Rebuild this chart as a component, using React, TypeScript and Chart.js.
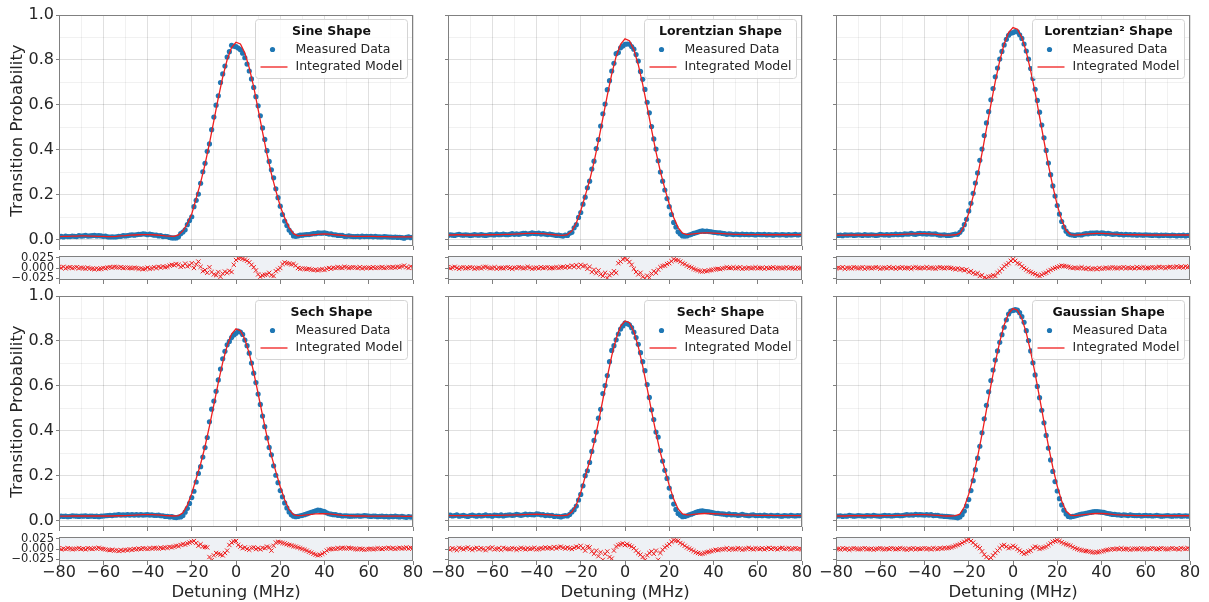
import React, { useEffect, useRef } from 'react';
import { Chart, registerables } from 'chart.js';

Chart.register(...registerables);

// ---------------- DATA ----------------
const detuning = [
  -80,-79,-78,-77,-76,-75,-74,-73,-72,-71,
  -70,-69,-68,-67,-66,-65,-64,-63,-62,-61,
  -60,-59,-58,-57,-56,-55,-54,-53,-52,-51,
  -50,-49,-48,-47,-46,-45,-44,-43,-42,-41,
  -40,-39,-38,-37,-36,-35,-34,-33,-32,-31,
  -30,-29,-28,-27,-26,-25,-24,-23,-22,-21,
  -20,-19,-18,-17,-16,-15,-14,-13,-12,-11,
  -10,-9,-8,-7,-6,-5,-4,-3,-2,-1,
  0,1,2,3,4,5,6,7,8,9,
  10,11,12,13,14,15,16,17,18,19,
  20,21,22,23,24,25,26,27,28,29,
  30,31,32,33,34,35,36,37,38,39,
  40,41,42,43,44,45,46,47,48,49,
  50,51,52,53,54,55,56,57,58,59,
  60,61,62,63,64,65,66,67,68,69,
  70,71,72,73,74,75,76,77,78,79,
  80,
];

const modelDetuning = [
  -80,-78,-76,-74,-72,-70,-68,-66,-64,-62,
  -60,-58,-56,-54,-52,-50,-48,-46,-44,-42,
  -40,-38,-36,-34,-32,-30,-28,-26,-24,-22,
  -20,-18,-16,-14,-12,-10,-8,-6,-4,-2,
  0,2,4,6,8,10,12,14,16,18,
  20,22,24,26,28,30,32,34,36,38,
  40,42,44,46,48,50,52,54,56,58,
  60,62,64,66,68,70,72,74,76,78,
  80,
];

const xTickValues = [-80,-70,-60,-50,-40,-30,-20,-10,0,10,20,30,40,50,60,70,80];
const yTickValues = [0,0.1,0.2,0.3,0.4,0.5,0.6,0.7,0.8,0.9,1.0];
const residualTickValues = [-0.025,0,0.025];

// Sine
const sineMeasured = [
  .013,.016,.013,.017,.015,.015,.017,.016,.015,.019,
  .017,.018,.020,.017,.018,.019,.020,.018,.019,.018,
  .016,.017,.014,.013,.014,.013,.014,.016,.016,.019,
  .018,.019,.021,.023,.021,.023,.025,.025,.027,.026,
  .023,.026,.024,.021,.022,.018,.019,.015,.016,.015,
  .011,.009,.009,.009,.014,.028,.035,.045,.068,.086,
  .103,.148,.176,.204,.252,.303,.341,.394,.427,.490,
  .546,.599,.641,.700,.738,.773,.813,.837,.865,.861,
  .859,.853,.846,.830,.810,.782,.751,.716,.678,.637,
  .596,.552,.498,.447,.397,.349,.312,.276,.227,.188,
  .150,.113,.084,.064,.044,.032,.018,.016,.018,.021,
  .021,.023,.024,.024,.026,.028,.028,.031,.030,.030,
  .032,.029,.026,.027,.023,.023,.020,.020,.020,.016,
  .016,.018,.016,.015,.015,.016,.014,.017,.015,.016,
  .015,.016,.014,.016,.014,.014,.013,.015,.014,.013,
  .013,.012,.013,.011,.012,.010,.008,.012,.014,.010,
  .013,
];
const sineModel = [
  .015,.016,.016,.017,.017,.018,.018,.017,.017,.016,
  .016,.015,.015,.016,.018,.019,.021,.022,.023,.024,
  .024,.023,.022,.020,.018,.017,.016,.022,.040,.072,
  .115,.185,.255,.336,.429,.530,.631,.724,.801,.855,
  .879,.871,.831,.765,.680,.580,.479,.381,.294,.219,
  .150,.098,.055,.028,.018,.020,.021,.022,.024,.026,
  .027,.026,.024,.022,.020,.018,.017,.016,.016,.016,
  .016,.016,.015,.015,.015,.014,.014,.014,.014,.014,
  .014,
];
const sineResidual = [
  .002,.000,.003,-.001,.001,.002,.000,.001,.002,-.001,
  .001,.000,-.002,.001,-.001,-.002,-.003,-.001,-.003,-.002,
  .000,-.001,.001,.002,.001,.003,.002,.001,.002,.000,
  .001,.001,.000,-.001,.001,.000,-.002,-.001,-.003,-.002,
  .001,-.002,-.001,.002,.000,.003,.001,.004,.002,.003,
  .006,.008,.007,.010,.008,.003,.005,.011,.004,.007,
  .012,.000,.009,.016,.003,-.008,-.005,-.012,.002,-.010,
  -.016,-.018,-.010,-.022,-.014,-.009,-.012,-.007,-.010,.008,
  .020,.024,.025,.023,.021,.018,.014,.008,.002,-.006,
  -.016,-.022,-.019,-.017,-.016,-.012,-.018,-.020,-.008,-.004,
  .000,.010,.014,.012,.011,.009,.010,.006,.000,-.002,
  -.001,-.002,-.003,-.002,-.004,-.005,-.004,-.006,-.004,-.003,
  -.005,-.002,.000,-.002,.001,.000,.002,.001,.000,.003,
  .002,.000,.001,.002,.001,.000,.002,-.001,.001,.000,
  .001,.000,.002,.000,.001,.001,.002,.000,.001,.002,
  .001,.002,.001,.003,.002,.004,.006,.002,.000,.004,
  .001,
];

// Lorentzian
const lorentzMeasured = [
  .020,.023,.021,.020,.023,.025,.022,.021,.023,.022,
  .020,.021,.024,.022,.021,.024,.021,.020,.022,.024,
  .023,.022,.026,.023,.024,.026,.024,.023,.025,.028,
  .025,.027,.025,.027,.029,.029,.026,.028,.031,.029,
  .028,.030,.026,.028,.026,.024,.026,.024,.022,.020,
  .021,.019,.017,.021,.020,.030,.034,.054,.068,.100,
  .122,.159,.190,.232,.261,.315,.350,.406,.446,.506,
  .561,.604,.668,.708,.751,.785,.828,.833,.854,.862,
  .870,.871,.871,.860,.848,.824,.795,.749,.714,.669,
  .612,.565,.504,.449,.404,.352,.302,.261,.222,.184,
  .148,.113,.078,.057,.036,.026,.018,.017,.018,.022,
  .025,.029,.032,.035,.038,.040,.038,.039,.037,.036,
  .034,.033,.031,.032,.029,.028,.025,.027,.026,.024,
  .026,.025,.023,.026,.024,.025,.023,.025,.024,.022,
  .025,.024,.023,.025,.022,.024,.023,.021,.024,.023,
  .022,.024,.023,.021,.024,.022,.023,.025,.022,.023,
  .024,
];
const lorentzModel = [
  .022,.022,.023,.023,.022,.022,.022,.022,.023,.023,
  .023,.024,.024,.025,.025,.026,.027,.028,.029,.029,
  .029,.028,.027,.025,.023,.021,.020,.024,.040,.075,
  .130,.196,.264,.346,.440,.541,.643,.737,.816,.870,
  .894,.886,.846,.779,.692,.593,.490,.392,.304,.228,
  .160,.100,.055,.030,.024,.026,.028,.030,.031,.031,
  .030,.029,.028,.027,.026,.025,.025,.024,.024,.024,
  .024,.024,.023,.023,.023,.023,.023,.023,.023,.023,
  .023,
];
const lorentzResidual = [
  .002,-.001,.001,.003,.000,-.002,.001,.002,-.001,.000,
  .002,.001,-.002,.000,.001,-.001,.002,.003,.001,-.001,
  .000,.002,-.002,.001,.000,-.001,.001,.002,.000,-.002,
  .001,.000,.002,.001,-.001,.000,.003,.001,-.002,.000,
  .001,-.001,.002,.000,.001,.002,-.001,.000,.001,.002,
  .000,.002,.003,.001,.004,.002,.006,.003,.007,.002,
  .008,.004,.006,-.002,.003,-.010,-.004,-.013,-.006,-.016,
  -.020,-.012,-.025,-.018,-.014,-.008,-.012,.012,.016,.022,
  .024,.021,.015,.008,-.002,-.010,-.016,-.012,-.022,-.026,
  -.019,-.024,-.014,-.008,-.012,-.004,.002,.005,.006,.010,
  .012,.017,.022,.020,.019,.016,.012,.010,.006,.003,
  .001,-.002,-.004,-.006,-.008,-.009,-.007,-.008,-.006,-.005,
  -.004,-.003,-.002,-.003,-.001,.000,.002,.000,.000,.002,
  -.001,.000,.002,-.002,.000,-.001,.001,-.001,.000,.002,
  -.001,.000,.001,-.002,.001,-.001,.000,.002,-.001,.000,
  .001,-.001,.000,.002,-.001,.001,.000,-.002,.001,.000,
  -.001,
];

// Lorentzian^2
const lorentz2Measured = [
  .021,.020,.021,.019,.023,.021,.022,.023,.020,.021,
  .023,.022,.020,.024,.021,.021,.023,.022,.020,.021,
  .025,.023,.022,.024,.021,.024,.023,.026,.023,.025,
  .023,.027,.026,.026,.029,.026,.025,.028,.029,.027,
  .028,.026,.028,.026,.026,.027,.023,.021,.022,.023,
  .020,.020,.021,.024,.026,.025,.034,.046,.068,.092,
  .129,.163,.207,.253,.298,.354,.404,.464,.520,.570,
  .623,.673,.725,.764,.804,.838,.867,.892,.910,.919,
  .922,.926,.925,.912,.896,.871,.840,.804,.762,.718,
  .670,.620,.568,.511,.454,.398,.342,.290,.240,.195,
  .153,.115,.082,.057,.039,.027,.023,.022,.020,.023,
  .023,.022,.026,.028,.027,.030,.030,.030,.032,.029,
  .031,.030,.027,.029,.027,.025,.026,.027,.024,.025,
  .022,.025,.023,.024,.022,.024,.021,.023,.022,.021,
  .023,.022,.021,.020,.022,.021,.019,.021,.020,.022,
  .020,.019,.021,.020,.018,.020,.019,.021,.018,.020,
  .019,
];
const lorentz2Model = [
  .020,.021,.021,.022,.022,.022,.022,.022,.022,.022,
  .023,.023,.023,.024,.024,.025,.026,.027,.027,.028,
  .028,.027,.026,.024,.022,.021,.021,.023,.030,.062,
  .119,.195,.285,.386,.494,.602,.705,.796,.871,.922,
  .944,.937,.900,.836,.752,.655,.548,.440,.334,.238,
  .155,.088,.043,.024,.021,.023,.025,.027,.028,.029,
  .029,.028,.027,.026,.025,.024,.024,.023,.023,.023,
  .022,.022,.022,.022,.022,.022,.022,.022,.022,.022,
  .022,
];
const lorentz2Residual = [
  -.001,.001,.000,.002,-.002,.001,.000,-.001,.002,.001,
  -.001,.000,.002,-.002,.001,.001,-.001,.000,.002,.001,
  -.002,.000,.001,-.001,.002,.000,.001,-.002,.001,.000,
  .002,-.001,.000,.001,-.002,.001,.002,.000,-.001,.001,
  .000,.002,-.001,.001,.000,-.002,.001,.002,.000,-.001,
  .001,.001,.000,-.002,-.003,-.001,-.004,-.003,-.006,-.004,
  -.010,-.008,-.012,-.015,-.013,-.020,-.018,-.024,-.026,-.022,
  -.021,-.018,-.020,-.012,-.008,-.002,.004,.008,.012,.018,
  .022,.018,.012,.010,.004,.000,-.004,-.008,-.010,-.013,
  -.015,-.018,-.020,-.017,-.014,-.012,-.008,-.005,-.002,.000,
  .002,.004,.006,.005,.004,.003,.001,.000,.001,-.001,
  .000,.002,-.001,-.002,.000,-.003,-.002,-.001,-.003,.000,
  -.002,-.001,.001,-.001,.000,.002,.000,-.001,.001,.000,
  .002,-.001,.001,.000,.001,-.001,.002,.000,.001,.002,
  -.001,.000,.001,.002,.000,.001,.003,.001,.002,.000,
  .002,.003,.001,.002,.004,.002,.003,.001,.004,.002,
  .003,
];

// Sech
const sechMeasured = [
  .019,.022,.020,.021,.019,.020,.023,.022,.021,.020,
  .022,.021,.023,.020,.021,.022,.020,.021,.019,.021,
  .022,.023,.024,.025,.024,.026,.026,.028,.026,.027,
  .026,.028,.026,.028,.026,.028,.026,.028,.026,.027,
  .028,.026,.027,.025,.025,.026,.023,.023,.020,.020,
  .018,.019,.016,.015,.017,.018,.024,.039,.056,.078,
  .104,.132,.173,.211,.241,.284,.326,.371,.441,.497,
  .533,.576,.627,.675,.721,.754,.783,.798,.815,.827,
  .834,.844,.840,.829,.804,.779,.746,.702,.657,.615,
  .564,.518,.466,.419,.369,.327,.294,.245,.203,.170,
  .135,.107,.080,.058,.040,.027,.021,.019,.020,.023,
  .025,.028,.031,.035,.038,.042,.045,.048,.047,.044,
  .041,.036,.032,.030,.028,.028,.025,.025,.022,.023,
  .023,.021,.021,.022,.022,.023,.021,.022,.024,.023,
  .021,.020,.022,.021,.019,.020,.021,.019,.020,.018,
  .020,.019,.021,.019,.018,.020,.018,.016,.019,.017,
  .018,
];
const sechModel = [
  .021,.021,.021,.022,.022,.022,.022,.022,.022,.022,
  .022,.022,.022,.023,.023,.024,.025,.026,.027,.028,
  .028,.028,.027,.026,.024,.023,.022,.024,.036,.070,
  .122,.188,.253,.331,.421,.517,.615,.705,.779,.831,
  .854,.846,.808,.744,.661,.566,.469,.375,.290,.219,
  .152,.094,.050,.028,.024,.025,.027,.029,.031,.032,
  .032,.031,.029,.027,.025,.024,.023,.022,.022,.022,
  .021,.021,.021,.021,.021,.021,.021,.021,.020,.020,
  .020,
];
const sechResidual = [
  .002,-.001,.001,.000,.002,.001,-.001,.000,.001,.002,
  .000,.001,-.001,.002,.001,.000,.002,.001,.003,.001,
  .000,-.001,-.002,-.003,-.002,-.004,-.003,-.005,-.003,-.004,
  -.002,-.003,-.001,-.002,.000,-.001,.001,.000,.002,.001,
  .000,.002,.001,.003,.002,.001,.003,.002,.004,.003,
  .005,.004,.006,.008,.007,.010,.012,.011,.014,.016,
  .018,.020,.015,.008,.012,.006,.005,.004,-.020,-.028,
  -.016,-.010,-.012,-.014,-.016,-.010,-.004,.010,.016,.019,
  .020,.010,.006,.002,.004,.000,-.002,.003,.004,.000,
  .002,-.001,.003,.002,.006,.004,-.004,.008,.016,.018,
  .017,.015,.014,.012,.010,.009,.007,.006,.004,.002,
  .000,-.002,-.004,-.007,-.009,-.012,-.014,-.016,-.015,-.012,
  -.009,-.004,-.001,.000,.001,.000,.002,.001,.003,.002,
  .001,.003,.002,.001,.000,-.001,.001,.000,-.002,-.001,
  .000,.001,-.001,.000,.002,.001,.000,.002,.001,.003,
  .001,.002,.000,.002,.003,.001,.002,.004,.001,.003,
  .002,
];

// Sech^2
const sech2Measured = [
  .023,.026,.022,.024,.027,.021,.023,.025,.022,.020,
  .024,.026,.023,.021,.025,.022,.024,.027,.023,.024,
  .021,.026,.025,.023,.027,.022,.025,.026,.027,.025,
  .026,.029,.027,.025,.027,.030,.027,.029,.028,.027,
  .031,.030,.027,.028,.024,.026,.024,.025,.020,.022,
  .020,.018,.021,.024,.022,.029,.040,.050,.066,.093,
  .118,.156,.201,.223,.260,.309,.358,.395,.457,.496,
  .566,.602,.646,.708,.758,.779,.805,.831,.853,.867,
  .879,.877,.872,.859,.839,.815,.785,.748,.708,.668,
  .606,.549,.494,.451,.395,.373,.313,.266,.225,.189,
  .146,.108,.075,.051,.033,.025,.019,.020,.023,.027,
  .030,.034,.038,.041,.044,.045,.043,.041,.040,.038,
  .036,.034,.034,.032,.031,.030,.027,.031,.027,.028,
  .028,.025,.026,.029,.026,.025,.023,.026,.027,.024,
  .024,.025,.023,.026,.024,.022,.025,.023,.023,.025,
  .022,.021,.024,.023,.022,.025,.023,.022,.024,.023,
  .025,
];
const sech2Model = [
  .024,.024,.024,.024,.024,.024,.024,.024,.024,.025,
  .025,.025,.025,.026,.026,.027,.027,.028,.029,.029,
  .030,.029,.028,.027,.025,.024,.024,.026,.040,.072,
  .126,.197,.264,.346,.439,.539,.640,.734,.811,.865,
  .889,.881,.841,.775,.688,.590,.488,.391,.303,.229,
  .158,.097,.053,.031,.027,.028,.030,.032,.033,.033,
  .032,.031,.030,.029,.028,.027,.027,.026,.026,.026,
  .025,.025,.025,.025,.024,.024,.024,.024,.024,.024,
  .024,
];
const sech2Residual = [
  .001,-.002,.002,.000,-.003,.003,.001,-.001,.002,.004,
  .000,-.002,.001,.003,-.001,.002,.000,-.003,.002,.001,
  .004,-.001,.000,.002,-.002,.003,.001,.000,-.001,.002,
  .001,-.002,.000,.003,.001,-.001,.002,.000,.001,.003,
  -.001,.000,.002,.001,.004,.002,.003,.001,.005,.002,
  .004,.006,.003,.001,.004,.002,.000,.003,.006,.004,
  .008,.002,-.004,.006,.004,-.006,-.012,-.004,-.018,-.008,
  -.027,-.012,-.006,-.020,-.024,-.004,.006,.010,.012,.014,
  .010,.012,.009,.006,.002,-.004,-.010,-.014,-.020,-.028,
  -.016,-.010,-.006,-.012,-.004,-.027,-.010,-.002,.004,.008,
  .012,.018,.022,.021,.020,.015,.012,.008,.004,.001,
  -.002,-.005,-.008,-.010,-.012,-.012,-.010,-.008,-.007,-.005,
  -.004,-.002,-.003,-.001,-.001,.000,.002,-.002,.001,.000,
  -.001,.002,.001,-.002,.000,.001,.003,.000,-.001,.002,
  .001,.000,.002,-.001,.001,.003,.000,.002,.001,-.001,
  .002,.003,.000,.001,.002,-.001,.001,.002,.000,.001,
  -.001,
];

// Gaussian
const gaussMeasured = [
  .021,.022,.023,.020,.022,.021,.025,.023,.021,.022,
  .024,.023,.022,.021,.024,.023,.022,.025,.023,.022,
  .021,.023,.025,.023,.024,.022,.023,.025,.025,.023,
  .024,.026,.028,.026,.027,.026,.029,.027,.028,.027,
  .026,.028,.026,.028,.024,.025,.025,.022,.022,.020,
  .020,.019,.018,.017,.016,.014,.018,.028,.044,.066,
  .095,.135,.179,.228,.279,.332,.392,.454,.514,.574,
  .624,.671,.715,.756,.794,.828,.861,.894,.920,.933,
  .936,.939,.937,.926,.908,.883,.846,.802,.756,.703,
  .649,.598,.548,.492,.436,.380,.324,.271,.220,.175,
  .133,.099,.071,.048,.031,.020,.018,.020,.022,.025,
  .028,.030,.032,.034,.036,.038,.040,.042,.041,.040,
  .039,.038,.035,.033,.031,.029,.029,.027,.027,.025,
  .027,.026,.024,.027,.025,.024,.024,.025,.022,.024,
  .025,.023,.024,.022,.023,.025,.023,.021,.022,.023,
  .024,.022,.021,.023,.022,.024,.021,.022,.023,.021,
  .022,
];
const gaussModel = [
  .022,.022,.022,.023,.023,.023,.023,.023,.023,.023,
  .023,.024,.024,.024,.025,.025,.026,.027,.028,.028,
  .028,.027,.026,.025,.023,.022,.022,.024,.030,.062,
  .119,.195,.285,.386,.494,.602,.705,.796,.871,.922,
  .944,.937,.900,.836,.752,.655,.548,.440,.334,.238,
  .155,.088,.043,.026,.024,.026,.028,.030,.032,.033,
  .033,.032,.030,.028,.027,.026,.025,.025,.024,.024,
  .024,.024,.024,.023,.023,.023,.023,.023,.023,.023,
  .023,
];
const gaussResidual = [
  .001,.000,-.001,.002,.000,.001,-.002,.000,.002,.001,
  -.001,.000,.001,.002,-.001,.000,.001,-.002,.000,.001,
  .002,.000,-.001,.001,.000,.002,.001,-.001,.000,.002,
  .001,.000,-.002,.001,.000,.002,-.001,.001,.000,.001,
  .002,.000,.001,-.001,.002,.001,.000,.002,.001,.003,
  .002,.003,.004,.006,.008,.010,.012,.015,.018,.022,
  .024,.020,.016,.010,.006,.002,-.006,-.014,-.020,-.026,
  -.022,-.016,-.010,-.004,.002,.008,.010,.006,.002,.004,
  .008,.005,.000,-.004,-.008,-.012,-.010,-.006,-.004,.002,
  .006,.004,.000,.002,.004,.006,.010,.014,.018,.020,
  .022,.020,.017,.014,.012,.010,.008,.005,.002,.000,
  -.002,-.003,-.004,-.005,-.006,-.007,-.008,-.009,-.008,-.007,
  -.006,-.005,-.003,-.002,-.001,.000,-.001,.001,.000,.002,
  -.001,.000,.001,-.002,.000,.001,.000,-.001,.002,.000,
  -.001,.001,.000,.002,.001,-.001,.000,.002,.001,.000,
  -.001,.001,.002,.000,.001,-.001,.002,.001,.000,.002,
  .001,
];

const panelTitles = ['Sine Shape', 'Lorentzian Shape', 'Lorentzian\u00B2 Shape', 'Sech Shape', 'Sech\u00B2 Shape', 'Gaussian Shape'];

const panels = [
  { title: panelTitles[0], measured: sineMeasured, model: sineModel, residual: sineResidual },
  { title: panelTitles[1], measured: lorentzMeasured, model: lorentzModel, residual: lorentzResidual },
  { title: panelTitles[2], measured: lorentz2Measured, model: lorentz2Model, residual: lorentz2Residual },
  { title: panelTitles[3], measured: sechMeasured, model: sechModel, residual: sechResidual },
  { title: panelTitles[4], measured: sech2Measured, model: sech2Model, residual: sech2Residual },
  { title: panelTitles[5], measured: gaussMeasured, model: gaussModel, residual: gaussResidual },
];

// ---------------- STYLE / LAYOUT ----------------
const FONT = "'DejaVu Sans', 'Liberation Sans', sans-serif";
const TEXT = '#262626';
const SPINE = '#808080';
const BLUE = '#1f77b4';
const RED = '#f01e1e';
const GRID_MAJOR = 'rgba(0,0,0,0.12)';
const GRID_MINOR = 'rgba(0,0,0,0.055)';
const RES_BG = '#eef1f5';

const COL_LEFT = [59, 448, 836];
const PLOT_W = 354;
const MAIN_TOP = [15, 296];
const MAIN_H = 231;
const RES_TOP = [256, 537];
const RES_H = 24;

Chart.defaults.font.family = FONT;
Chart.defaults.color = TEXT;

const near = (a: number, b: number) => Math.abs(a - b) < 1e-6;
const isMajorX = (v: number) => near(v / 20, Math.round(v / 20));
const isMajorY = (v: number) => near(v * 5, Math.round(v * 5));
const minus = (s: string) => s.replace('-', '\u2212');

const decorPlugin = {
  id: 'decor',
  beforeDraw(chart: any, _a: any, opts: any) {
    if (!opts || !opts.bg) return;
    const { left, top, right, bottom } = chart.chartArea;
    const ctx = chart.ctx;
    ctx.save();
    ctx.fillStyle = opts.bg;
    ctx.fillRect(left, top, right - left, bottom - top);
    ctx.restore();
  },
  afterDraw(chart: any, _a: any, opts: any) {
    const { left, top, right, bottom } = chart.chartArea;
    const ctx = chart.ctx;
    ctx.save();
    ctx.strokeStyle = SPINE;
    ctx.lineWidth = 1;
    ctx.strokeRect(Math.round(left) + 0.5, Math.round(top) + 0.5, Math.round(right - left) - 1, Math.round(bottom - top) - 1);
    if (opts && opts.legendTitle) {
      const w = 152, h = 59;
      const bx = Math.round(right - 6 - w) + 0.5, by = Math.round(top + 4) + 0.5;
      const r = 3;
      ctx.beginPath();
      ctx.moveTo(bx + r, by);
      ctx.lineTo(bx + w - r, by);
      ctx.arcTo(bx + w, by, bx + w, by + r, r);
      ctx.lineTo(bx + w, by + h - r);
      ctx.arcTo(bx + w, by + h, bx + w - r, by + h, r);
      ctx.lineTo(bx + r, by + h);
      ctx.arcTo(bx, by + h, bx, by + h - r, r);
      ctx.lineTo(bx, by + r);
      ctx.arcTo(bx, by, bx + r, by, r);
      ctx.closePath();
      ctx.fillStyle = 'rgba(255,255,255,0.85)';
      ctx.fill();
      ctx.strokeStyle = '#d4d4d4';
      ctx.stroke();
      ctx.fillStyle = '#111';
      ctx.textBaseline = 'middle';
      ctx.textAlign = 'center';
      ctx.font = `bold 12.5px ${FONT}`;
      ctx.fillText(opts.legendTitle, bx + w / 2, by + 12);
      ctx.textAlign = 'left';
      ctx.font = `12.5px ${FONT}`;
      ctx.fillStyle = BLUE;
      ctx.beginPath();
      ctx.arc(bx + 17, by + 30, 2.6, 0, Math.PI * 2);
      ctx.fill();
      ctx.fillStyle = TEXT;
      ctx.fillText('Measured Data', bx + 40, by + 30);
      ctx.strokeStyle = RED;
      ctx.lineWidth = 1.3;
      ctx.beginPath();
      ctx.moveTo(bx + 5, by + 47.5);
      ctx.lineTo(bx + 32, by + 47.5);
      ctx.stroke();
      ctx.fillText('Integrated Model', bx + 40, by + 47.5);
    }
    ctx.restore();
  },
};

type Spec = { kind: 'main' | 'res'; panel: number; row: number; col: number; x: number; y: number; w: number; h: number; L: number; T: number; R: number; B: number };

const specs: Spec[] = [];
panels.forEach((_p, i) => {
  const row = Math.floor(i / 3);
  const col = i % 3;
  const L = col === 0 ? 59 : 24;
  const R = 16;
  {
    const T = 12, B = 12;
    specs.push({ kind: 'main', panel: i, row, col, L, T, R, B, x: COL_LEFT[col] - L, y: MAIN_TOP[row] - T, w: L + PLOT_W + R, h: T + MAIN_H + B });
  }
  {
    const T = 12, B = row === 1 ? 42 : 12;
    specs.push({ kind: 'res', panel: i, row, col, L, T, R, B, x: COL_LEFT[col] - L, y: RES_TOP[row] - T, w: L + PLOT_W + R, h: T + RES_H + B });
  }
});

function buildConfig(s: Spec): any {
  const p = panels[s.panel];
  const first = s.col === 0;
  const base = {
    responsive: false,
    maintainAspectRatio: false,
    animation: false,
    devicePixelRatio: 1,
    events: [],
    layout: { padding: { left: 0, top: s.T, right: s.R, bottom: 0 } },
  };
  if (s.kind === 'main') {
    return {
      type: 'scatter',
      data: {
        datasets: [
          {
            label: 'Integrated Model',
            data: modelDetuning.map((x, i) => ({ x, y: p.model[i] })),
            showLine: true,
            borderColor: RED,
            backgroundColor: RED,
            borderWidth: 1.3,
            pointRadius: 0,
            pointHoverRadius: 0,
            tension: 0,
          },
          {
            label: 'Measured Data',
            data: detuning.map((x, i) => ({ x, y: p.measured[i] })),
            showLine: false,
            pointRadius: 2.6,
            pointHoverRadius: 2.6,
            pointBackgroundColor: BLUE,
            pointBorderColor: BLUE,
            pointBorderWidth: 0,
          },
        ],
      },
      options: {
        ...base,
        plugins: { legend: { display: false }, tooltip: { enabled: false }, decor: { legendTitle: p.title } },
        scales: {
          x: {
            type: 'linear', min: -80, max: 80,
            afterBuildTicks: (sc: any) => { sc.ticks = xTickValues.map((v) => ({ value: v })); },
            afterFit: (sc: any) => { sc.height = s.B; },
            ticks: { display: false },
            grid: {
              color: (c: any) => (c.tick && isMajorX(c.tick.value) ? GRID_MAJOR : GRID_MINOR),
              tickColor: (c: any) => (c.tick && isMajorX(c.tick.value) ? SPINE : 'rgba(0,0,0,0)'),
              tickLength: 4, lineWidth: 1, drawTicks: true,
            },
            border: { display: false },
          },
          y: {
            type: 'linear', min: -0.027, max: 1.0,
            afterBuildTicks: (sc: any) => { sc.ticks = yTickValues.map((v) => ({ value: v })); },
            afterFit: (sc: any) => { sc.width = s.L; },
            ticks: {
              display: first, autoSkip: false, padding: 2,
              font: { size: 16, family: FONT }, color: TEXT,
              callback: (v: number) => (isMajorY(v) ? v.toFixed(1) : ''),
            },
            title: {
              display: first, text: 'Transition Probability',
              font: { size: 16.5, family: FONT }, color: TEXT, padding: { top: 8, bottom: 0 },
            },
            grid: {
              color: (c: any) => (c.tick && isMajorY(c.tick.value) ? GRID_MAJOR : GRID_MINOR),
              tickColor: (c: any) => (c.tick && isMajorY(c.tick.value) ? SPINE : 'rgba(0,0,0,0)'),
              tickLength: 3, lineWidth: 1, drawTicks: true,
            },
            border: { display: false },
          },
        },
      },
      plugins: [decorPlugin],
    };
  }
  const bottom = s.row === 1;
  return {
    type: 'scatter',
    data: {
      datasets: [
        {
          label: 'Residual',
          data: detuning.map((x, i) => ({ x, y: p.residual[i] })),
          showLine: false,
          pointStyle: 'crossRot',
          pointRadius: 3,
          pointHoverRadius: 3,
          pointBorderColor: RED,
          pointBackgroundColor: RED,
          pointBorderWidth: 1,
        },
      ],
    },
    options: {
      ...base,
      plugins: { legend: { display: false }, tooltip: { enabled: false }, decor: { bg: RES_BG } },
      scales: {
        x: {
          type: 'linear', min: -80, max: 80,
          afterBuildTicks: (sc: any) => { sc.ticks = xTickValues.map((v) => ({ value: v })); },
          afterFit: (sc: any) => { sc.height = s.B; },
          ticks: {
            display: bottom, autoSkip: false, maxRotation: 0, minRotation: 0, padding: -2,
            font: { size: 16, family: FONT }, color: TEXT,
            callback: (v: number) => (isMajorX(v) ? minus(String(v)) : ''),
          },
          title: {
            display: bottom, text: 'Detuning (MHz)',
            font: { size: 16.5, family: FONT }, color: TEXT, padding: { top: 0, bottom: 0 },
          },
          grid: {
            drawOnChartArea: false, drawTicks: true, tickLength: 4,
            color: 'rgba(0,0,0,0)',
            tickColor: (c: any) => (c.tick && isMajorX(c.tick.value) ? SPINE : 'rgba(0,0,0,0)'),
          },
          border: { display: false },
        },
        y: {
          type: 'linear', min: -0.03, max: 0.03,
          afterBuildTicks: (sc: any) => { sc.ticks = residualTickValues.map((v) => ({ value: v })); },
          afterFit: (sc: any) => { sc.width = s.L; },
          ticks: {
            display: first, autoSkip: false, padding: 2,
            font: { size: 11.5, family: FONT }, color: TEXT,
            callback: (v: number) => minus(v.toFixed(3)),
          },
          grid: { drawOnChartArea: false, drawTicks: true, tickLength: 3, color: 'rgba(0,0,0,0)', tickColor: SPINE },
          border: { display: false },
        },
      },
    },
    plugins: [decorPlugin],
  };
}

export default function App() {
  const refs = useRef<(HTMLCanvasElement | null)[]>([]);
  useEffect(() => {
    const charts: Chart[] = [];
    specs.forEach((s, i) => {
      const c = refs.current[i];
      if (c) charts.push(new Chart(c, buildConfig(s)));
    });
    return () => charts.forEach((ch) => ch.destroy());
  }, []);
  return (
    <div style={{ position: 'fixed', left: 0, top: 0, width: 1209, height: 602, background: '#fff', overflow: 'hidden' }}>
      {specs.map((s, i) => (
        <canvas
          key={i}
          ref={(el) => { refs.current[i] = el; }}
          width={s.w}
          height={s.h}
          style={{ position: 'absolute', left: s.x, top: s.y, width: s.w, height: s.h }}
        />
      ))}
    </div>
  );
}
